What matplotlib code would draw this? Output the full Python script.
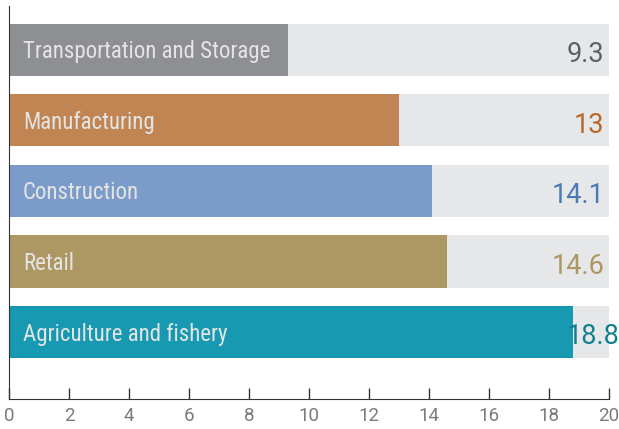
import matplotlib.pyplot as plt

sectors = ["Agriculture and fishery", "Retail", "Construction", "Manufacturing", "Transportation and Storage"]
values = [18.8, 14.6, 14.1, 13, 9.3]
value_labels = ["18.8", "14.6", "14.1", "13", "9.3"]
bar_colors = ["#1799b1", "#ad9762", "#7b9cc8", "#c08553", "#8e8f93"]
text_colors = ["#0e7f8f", "#ad9762", "#4a7ab8", "#b5672a", "#5f6062"]
ticks = [0, 2, 4, 6, 8, 10, 12, 14, 16, 18, 20]

label_font = ["Roboto Condensed", "Barlow Semi Condensed", "Liberation Sans Narrow", "DejaVu Sans"]
num_font = ["Roboto", "Lato", "DejaVu Sans"]

fig = plt.figure(figsize=(6.19, 4.29), dpi=100)
ax = fig.add_axes([9/619, 30/429, 600/619, 393/429])

pos = list(range(len(sectors)))
ax.barh(pos, [20]*len(pos), height=0.74, color="#e6e7e9", zorder=1)
ax.barh(pos, values, height=0.74, color=bar_colors, zorder=2)

for i in pos:
    ax.text(0.47, i - 0.03, sectors[i], ha="left", va="center", color="#e4e4e4",
            fontsize=16.5, family=label_font, zorder=3)
    if values[i] > 18:
        ax.text(values[i] - 0.2, i - 0.07, value_labels[i], ha="left", va="center",
                color=text_colors[i], fontsize=19.5, family=num_font, zorder=3)
    else:
        ax.text(19.85, i - 0.07, value_labels[i], ha="right", va="center",
                color=text_colors[i], fontsize=19.5, family=num_font, zorder=3)

ax.set_xlim(0, 20)
ax.set_ylim(-0.95, 4.62)
ax.set_xticks(ticks)
ax.set_yticks([])
ax.tick_params(axis="x", direction="in", length=8, width=1, color="#333333",
               labelcolor="#7a7b7e", pad=6)
for lab in ax.get_xticklabels():
    lab.set_family(num_font)
    lab.set_fontsize(13.5)
for s in ["top", "right"]:
    ax.spines[s].set_visible(False)
ax.spines["left"].set_color("#333333")
ax.spines["bottom"].set_color("#333333")

fig.savefig("out.png", dpi=100)
